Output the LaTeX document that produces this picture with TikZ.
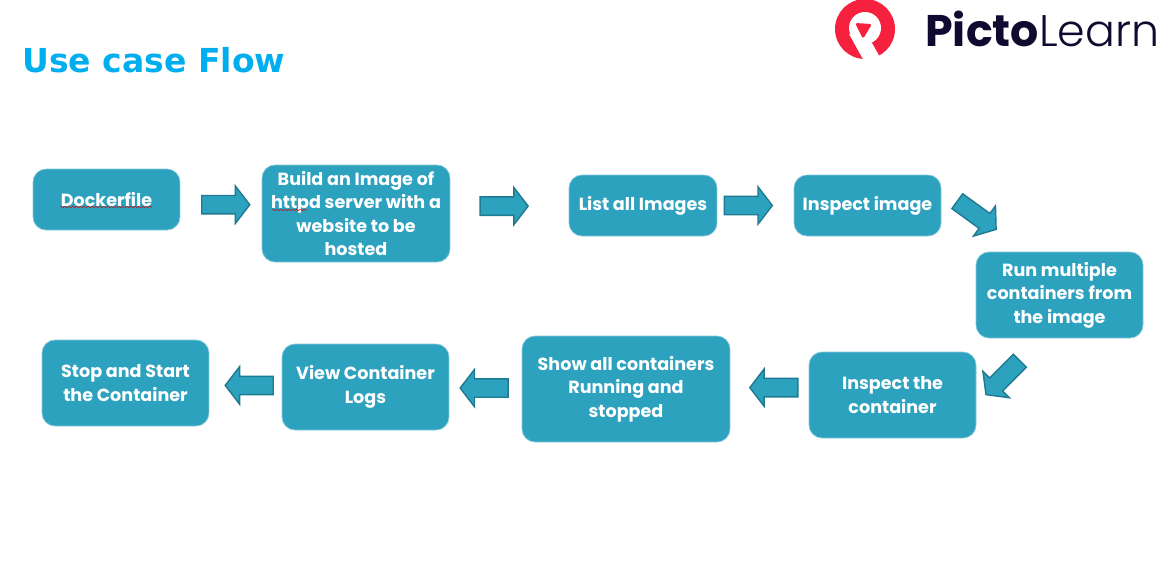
\documentclass[tikz,border=0pt]{standalone}
\usepackage{fontspec}
\setsansfont{Poppins}
\newfontfamily\titlefont{DejaVu Sans}
\newfontfamily\logofont{Poppins}
\newfontfamily\logolight{Poppins Light}
\usetikzlibrary{shapes.arrows, decorations.pathmorphing}
\definecolor{boxblue}{HTML}{2DA2BF}
\definecolor{boxedge}{HTML}{84C7D9}
\definecolor{arrowedge}{HTML}{1F7A91}
\definecolor{titleblue}{HTML}{00AEEF}
\definecolor{logored}{HTML}{F5213F}
\definecolor{logoink}{HTML}{100A30}
\tikzset{
  stepbox/.style={draw=boxedge, fill=boxblue, rounded corners=.26cm, text=white,
    align=center, inner sep=0pt, font=\sffamily\bfseries\fontsize{10}{13.4}\selectfont},
  blockarrow/.style={single arrow, draw=arrowedge, fill=boxblue, line width=.8pt,
    inner xsep=0pt, inner ysep=.17cm,
    minimum height=.96cm, minimum width=.72cm, single arrow head extend=.19cm,
    single arrow tip angle=105},
  squiggle/.style={red!80!black, line width=.3pt, decorate,
    decoration={snake, amplitude=.3pt, segment length=2.2pt}}
}

\begin{document}
\begin{tikzpicture}[x=.02cm, y=-.02cm]
  \useasboundingbox (0,0) rectangle (1165,562);
  % title and logo
  \node (title) at (22,72) [anchor=base west, inner sep=0pt, text=titleblue,
    font=\titlefont\bfseries\fontsize{18.8}{19}\selectfont] {Use case Flow};
  \fill [logored] (865,29) circle [radius=30];
  \fill [white] (865,28) circle [radius=16];
  \fill [white] (849,34) -- (864,61) -- (882,61) -- (872,43) -- cycle;
  \fill [logored, rounded corners=1pt] (855,23) -- (872,24) -- (863,39) -- cycle;
  \node (logo) at (925,46) [anchor=base west, inner sep=0pt, text=logoink,
    font=\fontsize{25.2}{26}\selectfont] {{\logofont\bfseries Picto}{\logolight Learn}};
  % top row
  \node (docker) at (106.5,199.5) [stepbox, minimum width=2.94cm, minimum height=1.22cm] {Dockerfile};
  \node (build) at (356,213.5) [stepbox, minimum width=3.76cm, minimum height=1.94cm] {Build an Image of\\httpd server with a\\website to be\\hosted};
  \node (list) at (643,205.5) [stepbox, minimum width=2.96cm, minimum height=1.22cm] {List all Images};
  \node (inspect) at (867.5,205.5) [stepbox, minimum width=2.94cm, minimum height=1.22cm] {Inspect image};
  \node (run) at (1059.5,295) [stepbox, minimum width=3.34cm, minimum height=1.72cm] {Run multiple\\containers from\\the image};
  % bottom row
  \node (inspectc) at (892.5,395) [stepbox, minimum width=3.34cm, minimum height=1.72cm] {Inspect the\\container};
  \node (show) at (626,389) [stepbox, minimum width=4.16cm, minimum height=2.12cm] {Show all containers\\Running and\\stopped};
  \node (logs) at (365.5,387) [stepbox, minimum width=3.34cm, minimum height=1.72cm] {View Container\\Logs};
  \node (stop) at (125.5,383) [stepbox, minimum width=3.34cm, minimum height=1.72cm] {Stop and Start\\the Container};
  % spelling marks
  \draw [squiggle] (60,207) -- (152,207);
  \draw [squiggle] (272,210) -- (307,210);
  % arrows between the steps
  \path (docker.east) -- node [blockarrow, pos=.515, yshift=.04cm] (arrowa) {} (build.west);
  \path (build.east) -- node [blockarrow, pos=.425, yshift=.08cm] (arrowb) {} (list.west);
  \path (list.east) -- node [blockarrow, pos=.36] (arrowc) {} (inspect.west);
  \path (inspect.east) -- node [blockarrow, pos=.275, yshift=.1cm, rotate=-36] (arrowd) {} (run.north);
  \path (run.south) -- node [blockarrow, pos=.65, rotate=225] (arrowe) {} (inspectc.east);
  \path (inspectc.west) -- node [blockarrow, pos=.4, yshift=.1cm, rotate=180] (arrowf) {} (show.east);
  \path (show.west) -- node [blockarrow, pos=.47, rotate=180] (arrowg) {} (logs.east);
  \path (logs.west) -- node [blockarrow, pos=.4, rotate=180] (arrowh) {} (stop.east);
\end{tikzpicture}
\end{document}
